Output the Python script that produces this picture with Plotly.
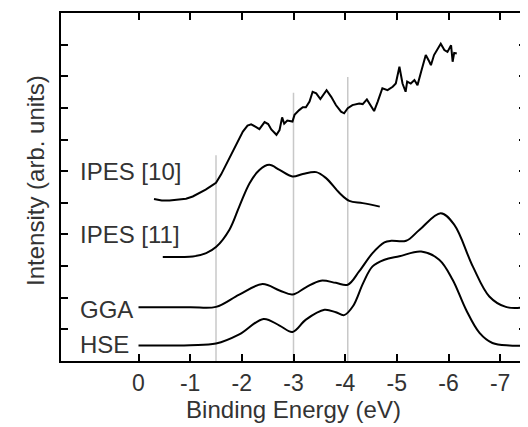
import plotly.graph_objects as go

# ---- data (binding energy in eV, intensity in arb. units) ----
ipes10_x = [-0.30, -0.45, -0.60, -0.75, -0.92, -1.05, -1.18, -1.30, -1.44, -1.50, -1.60, -1.70,
            -1.78, -1.86, -1.93, -2.02, -2.11, -2.18, -2.27, -2.34, -2.44, -2.51, -2.57, -2.67,
            -2.73, -2.78, -2.82, -2.88, -2.98, -3.02, -3.11, -3.18, -3.24, -3.31, -3.37, -3.44,
            -3.52, -3.57, -3.64, -3.73, -3.82, -3.92, -3.98, -4.05, -4.14, -4.27, -4.34, -4.42,
            -4.50, -4.56, -4.63, -4.72, -4.82, -4.92, -4.98, -5.05, -5.11, -5.17, -5.20, -5.27,
            -5.34, -5.40, -5.47, -5.53, -5.56, -5.63, -5.66, -5.72, -5.79, -5.85, -5.92, -5.98,
            -6.05, -6.08, -6.11, -6.16]
ipes10_y = [5.12, 5.07, 5.07, 5.10, 5.13, 5.20, 5.31, 5.42, 5.57, 5.63, 5.90, 6.22,
            6.45, 6.75, 6.95, 7.25, 7.44, 7.48, 7.40, 7.33, 7.55, 7.49, 7.32, 7.15,
            7.30, 7.70, 7.50, 7.60, 7.57, 7.78, 7.93, 8.02, 8.02, 8.20, 8.51, 8.46,
            8.28, 8.41, 8.56, 8.35, 8.09, 7.88, 7.83, 7.99, 8.09, 8.14, 8.12, 8.27,
            8.04, 7.90, 8.20, 8.62, 8.56, 8.67, 8.77, 9.30, 8.77, 8.51, 8.83, 8.77,
            8.88, 8.72, 9.14, 9.46, 9.67, 9.46, 9.35, 9.67, 9.88, 10.03, 9.83, 9.77,
            9.98, 9.46, 9.74, 9.72]

ipes11_x = [-0.47, -0.75, -1.05, -1.31, -1.50, -1.76, -1.95, -2.15, -2.34, -2.53, -2.73,
            -2.98, -3.18, -3.44, -3.63, -3.89, -4.08, -4.34, -4.67]
ipes11_y = [3.29, 3.29, 3.30, 3.41, 3.60, 4.15, 4.88, 5.62, 6.04, 6.20, 6.04,
            5.83, 5.91, 5.97, 5.78, 5.31, 5.06, 4.99, 4.88]

gga_x = [0.0, -1.0, -1.5, -1.95, -2.40, -2.73, -2.98, -3.24, -3.53, -3.82, -4.05, -4.27,
         -4.53, -4.76, -4.89, -5.18, -5.44, -5.85, -6.11, -6.47, -6.79, -7.11, -7.49]
gga_y = [1.70, 1.70, 1.71, 2.10, 2.43, 2.23, 2.10, 2.33, 2.54, 2.47, 2.41, 2.83,
         3.41, 3.75, 3.80, 3.80, 4.15, 4.67, 4.31, 2.99, 2.04, 1.71, 1.70]

hse_x = [0.0, -1.0, -1.5, -1.95, -2.42, -2.73, -2.98, -3.24, -3.60, -3.82, -3.98, -4.15,
         -4.35, -4.53, -4.76, -5.05, -5.47, -5.82, -6.08, -6.34, -6.60, -6.85, -7.18, -7.49]
hse_y = [0.49, 0.50, 0.55, 0.84, 1.33, 1.12, 0.92, 1.31, 1.62, 1.54, 1.45, 1.73,
         2.47, 2.99, 3.20, 3.31, 3.46, 3.20, 2.57, 1.62, 0.89, 0.57, 0.49, 0.49]

labels = ["IPES [10]", "IPES [11]", "GGA", "HSE"]
label_y = [6.0, 4.0, 1.62, 0.52]
label_x = 1.18

guide_x = [-1.5, -3.0, -4.05]
guide_top = [6.5, 8.48, 8.98]

xtick_vals = [0, -1, -2, -3, -4, -5, -6, -7]
xtick_text = ["0", "-1", "-2", "-3", "-4", "-5", "-6", "-7"]
ytick_vals = [1, 2, 3, 4, 5, 6, 7, 8, 9, 10]

FONT = "Liberation Sans, Arial, Helvetica, sans-serif"
TXT = "#333333"

fig = go.Figure()

for gx, gt in zip(guide_x, guide_top):
    fig.add_shape(type="line", xref="x", yref="y", x0=gx, x1=gx, y0=0, y1=gt,
                  line=dict(color="#c8c8c8", width=1.5), layer="below")

smooth = dict(color="black", width=2, shape="spline", smoothing=1.0)
fig.add_trace(go.Scatter(x=ipes10_x, y=ipes10_y, mode="lines", line=dict(color="black", width=2)))
fig.add_trace(go.Scatter(x=ipes11_x, y=ipes11_y, mode="lines", line=smooth))
fig.add_trace(go.Scatter(x=gga_x, y=gga_y, mode="lines", line=smooth))
fig.add_trace(go.Scatter(x=hse_x, y=hse_y, mode="lines", line=smooth))

for t, ly in zip(labels, label_y):
    fig.add_annotation(x=label_x, y=ly, xref="x", yref="y", text=t, showarrow=False,
                       xanchor="left", yanchor="middle",
                       font=dict(family=FONT, size=24, color=TXT))

# y-axis title placed as a rotated annotation
fig.add_annotation(xref="paper", yref="paper", x=0, y=0.5, xshift=-26, yshift=6,
                   text="Intensity (arb. units)", textangle=-90, showarrow=False,
                   xanchor="center", yanchor="middle",
                   font=dict(family=FONT, size=24, color=TXT))

# the page body adds an 8px offset; figure sized so the plot lands where the reference has it
fig.update_layout(
    width=520, height=419,
    margin=dict(l=53, r=2, t=5, b=66, autoexpand=False),
    paper_bgcolor="white", plot_bgcolor="white",
    showlegend=False,
    font=dict(family=FONT, size=23, color=TXT),
)
fig.update_xaxes(
    range=[1.5, -7.5], tickvals=xtick_vals, ticktext=xtick_text,
    ticks="inside", ticklen=7, tickwidth=2, tickcolor="black",
    showline=True, linecolor="black", linewidth=2, mirror="ticks",
    showgrid=False, zeroline=False, automargin=False,
    tickfont=dict(family=FONT, size=23, color=TXT),
    title=dict(text="Binding Energy (eV)", font=dict(family=FONT, size=24, color=TXT), standoff=6),
)
fig.update_yaxes(
    range=[0, 11], tickvals=ytick_vals, showticklabels=False,
    ticks="inside", ticklen=7, tickwidth=2, tickcolor="black",
    showline=True, linecolor="black", linewidth=2, mirror="ticks",
    showgrid=False, zeroline=False, automargin=False,
)

fig.write_html("out.html")
